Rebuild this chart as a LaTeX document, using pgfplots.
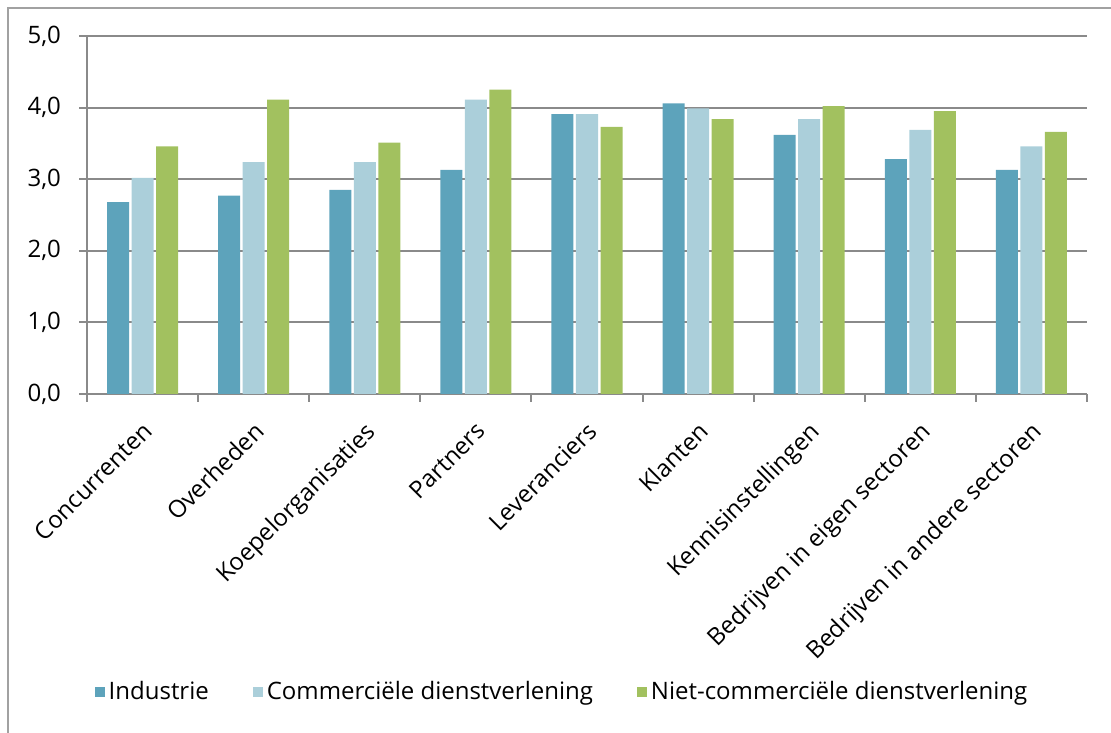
\documentclass[border=0pt]{standalone}
\usepackage{pgfplots}
\pgfplotsset{compat=1.18}
\usepackage{fontspec}
\setmainfont{Open Sans}
\definecolor{cInd}{HTML}{5DA3BB}
\definecolor{cCom}{HTML}{ABCFDA}
\definecolor{cNiet}{HTML}{A2C15F}
\definecolor{cGrid}{HTML}{8A8A8A}
\begin{document}
\begin{tikzpicture}
\useasboundingbox (0,0) rectangle (555.5pt,366pt);
\draw[cGrid!80, line width=1pt] (4pt,-20pt) rectangle (575pt,362pt);
\begin{axis}[
  at={(43.5pt,169pt)}, anchor=south west,
  scale only axis, width=500pt, height=179pt,
  font=\fontsize{12}{14}\selectfont,
  ybar=1.25pt, bar width=11pt,
  xmin=-0.5, xmax=8.5, ymin=0, ymax=5,
  xtick={0,...,8},
  xticklabels={Concurrenten,Overheden,Koepelorganisaties,Partners,Leveranciers,Klanten,Kennisinstellingen,Bedrijven in eigen sectoren,Bedrijven in andere sectoren},
  minor xtick={-0.5,0.5,...,8.5},
  major x tick style={draw=none},
  minor x tick style={draw=cGrid, line width=1pt},
  minor tick length=4pt,
  xticklabel style={xshift=-0.5pt, yshift=-9pt, rotate=45, anchor=north east, inner sep=0pt},
  ytick={0,1,2,3,4,5},
  y tick style={draw=cGrid, line width=1pt},
  major tick length=4pt,
  tick align=outside,
  ymajorgrids, grid style={draw=cGrid, line width=1pt},
  axis x line*=bottom, axis y line*=left,
  axis line style={draw=cGrid, line width=1pt, -},
  /pgf/number format/fixed,
  /pgf/number format/fixed zerofill,
  /pgf/number format/precision=1,
  /pgf/number format/use comma,
  /pgf/number format/assume math mode=true,
  yticklabel style={xshift=-5.5pt},
  legend style={draw=none, at={(0.476,-0.832)}, anchor=center, font=\fontsize{12}{14}\selectfont, /tikz/every even column/.append style={column sep=20pt}},
  legend columns=3,
  legend image code/.code={\fill[#1] (0pt,-2.5pt) rectangle (5pt,2.5pt);},
]
\addplot[fill=cInd, draw=none] coordinates {(0,2.68) (1,2.77) (2,2.85) (3,3.13) (4,3.91) (5,4.06) (6,3.62) (7,3.28) (8,3.13)};
\addplot[fill=cCom, draw=none] coordinates {(0,3.02) (1,3.24) (2,3.24) (3,4.11) (4,3.91) (5,3.99) (6,3.84) (7,3.69) (8,3.46)};
\addplot[fill=cNiet, draw=none] coordinates {(0,3.46) (1,4.11) (2,3.51) (3,4.25) (4,3.73) (5,3.84) (6,4.02) (7,3.95) (8,3.66)};
\legend{Industrie, Commerciële dienstverlening, Niet-commerciële dienstverlening}
\end{axis}
\end{tikzpicture}
\end{document}
